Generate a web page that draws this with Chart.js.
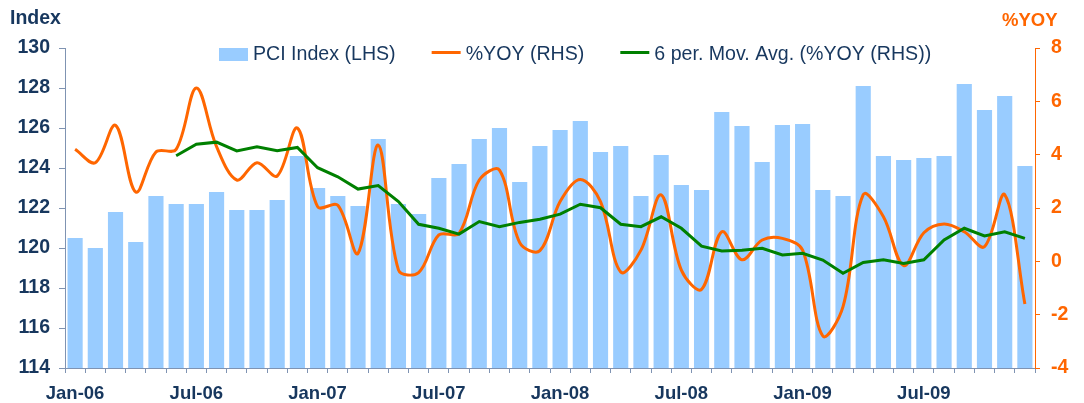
<!DOCTYPE html>
<html>
<head>
<meta charset="utf-8">
<script src="https://cdn.jsdelivr.net/npm/chart.js@4.4.1/dist/chart.umd.min.js"></script>
<style>
html,body{margin:0;padding:0;background:#ffffff;}
#wrap{width:1084px;height:403px;position:relative;}
</style>
</head>
<body>
<div id="wrap"><canvas id="c" width="1084" height="403"></canvas></div>
<script>
const months = ["Jan-06","Feb-06","Mar-06","Apr-06","May-06","Jun-06","Jul-06","Aug-06","Sep-06","Oct-06","Nov-06","Dec-06",
"Jan-07","Feb-07","Mar-07","Apr-07","May-07","Jun-07","Jul-07","Aug-07","Sep-07","Oct-07","Nov-07","Dec-07",
"Jan-08","Feb-08","Mar-08","Apr-08","May-08","Jun-08","Jul-08","Aug-08","Sep-08","Oct-08","Nov-08","Dec-08",
"Jan-09","Feb-09","Mar-09","Apr-09","May-09","Jun-09","Jul-09","Aug-09","Sep-09","Oct-09","Nov-09","Dec-09"];

const pciIndex = [120.5,120.0,121.8,120.3,122.6,122.2,122.2,122.8,121.9,121.9,122.4,124.6,
123.0,122.6,122.1,125.45,122.2,121.7,123.5,124.2,125.45,126.0,123.3,125.1,
125.9,126.35,124.8,125.1,122.6,124.65,123.15,122.9,126.8,126.1,124.3,126.15,
126.2,122.9,122.6,128.1,124.6,124.4,124.5,124.6,128.2,126.9,127.6,124.1];

const yoy = [4.2,3.7,5.1,2.6,4.1,4.2,6.5,4.3,3.05,3.7,3.2,5.0,
2.05,2.1,0.3,4.36,-0.32,-0.42,0.99,1.05,3.05,3.42,0.7,0.4,
2.24,3.07,2.24,-0.4,0.42,2.49,-0.33,-1.05,1.11,0.06,0.8,0.86,
0.42,-2.8,-1.7,2.5,1.67,-0.16,1.07,1.4,1.11,0.55,2.5,-1.6];

const movAvg = [null,null,null,null,null,3.96,4.39,4.47,4.14,4.3,4.15,4.27,
3.51,3.17,2.71,2.84,2.24,1.39,1.24,1.02,1.49,1.30,1.46,1.58,
1.77,2.14,2.01,1.39,1.30,1.67,1.24,0.57,0.39,0.42,0.49,0.24,
0.30,0.05,-0.45,-0.04,0.06,-0.08,0.06,0.8,1.24,0.95,1.11,0.86];

const leftTicks = {min:114, max:130, step:2};
const rightTicks = {min:-4, max:8, step:2};
const labelEvery = 6;

const NAVY = '#17375E';
const ORANGE = '#FF6600';
const GREEN = '#008000';
const BAR = '#99CCFF';
const AXIS = '#7F93B2';
const FONT = '"Liberation Sans", Arial, sans-serif';

const extras = {
  id: 'extras',
  afterDraw(chart) {
    const ctx = chart.ctx;
    ctx.save();
    ctx.textBaseline = 'alphabetic';
    ctx.textAlign = 'left';
    ctx.font = 'bold 19.5px ' + FONT;
    ctx.fillStyle = NAVY;
    ctx.fillText('Index', 10, 23.5);
    ctx.font = 'bold 18.5px ' + FONT;
    ctx.fillStyle = ORANGE;
    ctx.fillText('%YOY', 1002, 26);
    // legend
    ctx.font = '19.6px ' + FONT;
    ctx.textBaseline = 'middle';
    const yC = 54.5;
    let x = 219;
    chart.data.datasets.map((d, i) => ({d, i})).sort((a,b)=>a.d.legendIndex-b.d.legendIndex).forEach(({d}) => {
      if (d.type === 'bar') {
        ctx.fillStyle = d.backgroundColor;
        ctx.fillRect(x, yC - 6.5, 29, 13);
      } else {
        ctx.strokeStyle = d.borderColor;
        ctx.lineWidth = 3;
        ctx.beginPath();
        ctx.moveTo(x, yC - 2);
        ctx.lineTo(x + 29, yC - 2);
        ctx.stroke();
      }
      x += 34;
      ctx.fillStyle = NAVY;
      ctx.fillText(d.label, x, yC);
      x += ctx.measureText(d.label).width + 36;
    });
    ctx.restore();
  }
};

new Chart(document.getElementById('c'), {
  data: {
    labels: months,
    datasets: [
      {type:'line', label:'6 per. Mov. Avg. (%YOY (RHS))', legendIndex:2, data: movAvg, yAxisID:'y1',
       borderColor: GREEN, borderWidth: 3, pointRadius: 0, tension: 0, order: 0, spanGaps: false},
      {type:'line', label:'%YOY (RHS)', legendIndex:1, data: yoy, yAxisID:'y1',
       borderColor: ORANGE, borderWidth: 3, pointRadius: 0, tension: 0.35, order: 1},
      {type:'bar', label:'PCI Index (LHS)', legendIndex:0, data: pciIndex, yAxisID:'y',
       backgroundColor: BAR, borderWidth: 0, barPercentage: 0.75, categoryPercentage: 1.0, order: 2}
    ]
  },
  options: {
    responsive: false,
    animation: false,
    devicePixelRatio: 1,
    layout: {padding: {top: 48, left: 0, right: 0, bottom: 0}},
    plugins: {legend: {display: false}, tooltip: {enabled: false}},
    scales: {
      x: {
        type: 'category',
        offset: true,
        grid: {offset: true, drawOnChartArea: false, drawTicks: true, tickLength: 5, color: AXIS, tickColor: AXIS},
        border: {display: true, color: AXIS, width: 1},
        ticks: {autoSkip: false, maxRotation: 0, minRotation: 0, padding: 10, color: NAVY,
                font: {family: FONT, size: 18.5, weight: 'bold'},
                callback: (v, i) => (i % labelEvery === 0 ? months[i] : '')},
        afterFit: (s) => { s.height = 35; }
      },
      y: {
        position: 'left',
        min: leftTicks.min, max: leftTicks.max,
        grid: {drawOnChartArea: false, drawTicks: true, tickLength: 6, color: AXIS, tickColor: AXIS},
        border: {display: true, color: AXIS, width: 1},
        ticks: {stepSize: leftTicks.step, padding: 9, color: NAVY, font: {family: FONT, size: 19.5, weight: 'bold'}},
        afterFit: (s) => { s.width = 65; }
      },
      y1: {
        position: 'right',
        min: rightTicks.min, max: rightTicks.max,
        grid: {drawOnChartArea: false, drawTicks: true, tickLength: 5, color: ORANGE, tickColor: ORANGE},
        border: {display: true, color: ORANGE, width: 1},
        ticks: {stepSize: rightTicks.step, padding: 11, color: ORANGE, font: {family: FONT, size: 19.5, weight: 'bold'}},
        afterFit: (s) => { s.width = 49; }
      }
    }
  },
  plugins: [extras]
});
</script>
</body>
</html>
